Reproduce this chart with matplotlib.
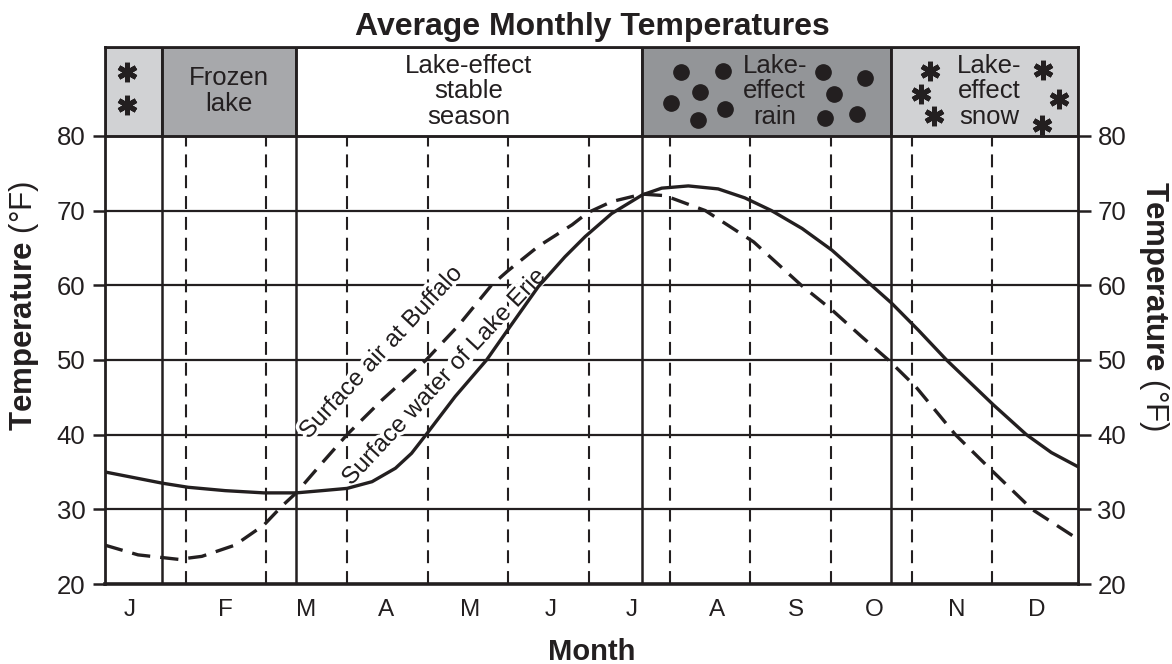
import matplotlib
matplotlib.use("Agg")
import matplotlib.pyplot as plt
import matplotlib.patheffects as pe
from matplotlib.patches import Rectangle

plt.rcParams['font.family'] = ['Liberation Sans', 'DejaVu Sans']
plt.rcParams['mathtext.fontset'] = 'custom'
plt.rcParams['mathtext.rm'] = 'Liberation Sans'
plt.rcParams['mathtext.bf'] = 'Liberation Sans:bold'

INK = '#231f20'

# ---------------- data ----------------
month_labels = ['J', 'F', 'M', 'A', 'M', 'J', 'J', 'A', 'S', 'O', 'N', 'D']
month_label_pos = [0.31, 1.49, 2.49, 3.48, 4.52, 5.52, 6.53, 7.58, 8.57, 9.54, 10.56, 11.55]
month_bounds = [1, 2, 3, 4, 5, 6, 7, 8, 9, 10, 11]

# Surface water of Lake Erie (months from Jan 1, deg F)
water_x = [0.00, 0.71, 1.03, 1.49, 1.97, 2.37, 2.69, 3.00, 3.31, 3.60, 3.80, 3.98,
           4.34, 4.73, 4.99, 5.37, 5.70, 5.95, 6.28, 6.66, 6.90, 7.23, 7.60, 7.93,
           8.26, 8.64, 9.01, 9.50, 9.75, 10.08, 10.43, 11.01, 11.42, 11.73, 12.06]
water_t = [35.0, 33.5, 32.95, 32.5, 32.2, 32.2, 32.5, 32.8, 33.7, 35.5, 37.5, 40.0,
           45.1, 50.0, 54.0, 59.8, 63.8, 66.5, 69.6, 72.1, 73.0, 73.3, 72.9, 71.7,
           70.0, 67.6, 64.7, 60.0, 57.6, 54.0, 50.0, 44.0, 40.0, 37.6, 35.7]

# Surface air at Buffalo
air_x = [0.00, 0.41, 0.91, 1.20, 1.61, 1.97, 2.19, 2.37, 2.69, 3.00, 3.43, 3.98,
         4.38, 4.79, 4.99, 5.37, 5.79, 5.98, 6.28, 6.66, 6.94, 7.19, 7.44, 8.04,
         8.63, 9.01, 9.38, 9.71, 10.05, 10.54, 11.01, 11.49, 12.06]
air_t = [25.2, 23.9, 23.3, 23.7, 25.2, 27.9, 30.4, 32.2, 36.2, 40.0, 44.6, 50.0,
         54.6, 60.0, 61.9, 65.2, 68.1, 69.7, 71.2, 72.2, 72.0, 71.0, 70.0, 65.8,
         60.0, 56.7, 53.1, 50.0, 46.4, 40.0, 35.0, 30.0, 26.0]

# seasons (banner)
season_edges = [0.0, 0.71, 2.37, 6.66, 9.74, 12.06]
season_colors = ['#d1d2d4', '#a7a8ab', '#ffffff', '#939598', '#d1d2d4']
season_names = ['', 'Frozen\nlake', 'Lake-effect\nstable\nseason', 'Lake-\neffect\nrain',
                'Lake-\neffect\nsnow']
season_text_x = [0.35, 1.54, 4.51, 8.30, 10.96]

# decorative symbols in banner
star_x = [0.27, 0.27, 10.23, 10.11, 10.27, 11.62, 11.82, 11.61]
star_t = [88.6, 84.2, 88.7, 85.6, 82.7, 88.8, 84.9, 81.5]
drop_x = [7.14, 7.66, 7.37, 7.01, 7.68, 7.35, 8.90, 9.42, 9.03, 9.32, 8.92]
drop_t = [88.5, 88.7, 85.9, 84.4, 83.6, 82.1, 88.6, 87.8, 85.6, 82.9, 82.4]

temp_ticks = [20, 30, 40, 50, 60, 70, 80]
grid_temps = [30, 40, 50, 60, 70]

X_MAX = 12.06
T_MIN, T_MAX, BANNER_BOT = 20, 91.9, 80

# ---------------- figure ----------------
fig = plt.figure(figsize=(11.72, 6.64), dpi=100)
ax = fig.add_axes([105 / 1172, 1 - 584 / 664, (1078 - 105) / 1172, (584 - 47) / 664])
ax.set_xlim(0, X_MAX)
ax.set_ylim(T_MIN, T_MAX)

# banner boxes
for i in range(len(season_colors)):
    x0, x1 = season_edges[i], season_edges[i + 1]
    ax.add_patch(Rectangle((x0, BANNER_BOT), x1 - x0, T_MAX - BANNER_BOT,
                           facecolor=season_colors[i], edgecolor=INK, lw=1.8, zorder=1))
    if season_names[i]:
        ax.text(season_text_x[i], (BANNER_BOT + T_MAX) / 2, season_names[i],
                ha='center', va='center', fontsize=18.5, color=INK, linespacing=1.1,
                zorder=4)

ax.plot(star_x, star_t, ls='none', marker=(6, 2, 0), ms=14, mew=3.6, color=INK, zorder=4)
ax.plot(drop_x, drop_t, ls='none', marker='o', ms=11, color=INK, zorder=4)

# grid lines
for t in grid_temps:
    ax.axhline(t, color=INK, lw=1.6, zorder=2)
ax.axhline(BANNER_BOT, color=INK, lw=1.8, zorder=2)
ax.vlines(month_bounds, T_MIN, BANNER_BOT, colors=INK, lw=1.5,
          linestyles=(0, (6.2, 3.8)), zorder=2)
for xe in season_edges[1:-1]:
    ax.axvline(xe, color=INK, lw=1.8, zorder=2)

# curves
ax.plot(water_x, water_t, color=INK, lw=2.4, solid_joinstyle='round', zorder=6)
ax.plot(air_x, air_t, color=INK, lw=2.4, dashes=(5.5, 3.0), zorder=6)

halo = [pe.withStroke(linewidth=5, foreground='white')]
ax.text(3.42, 50.9, 'Surface air at Buffalo', rotation=47, rotation_mode='anchor',
        ha='center', va='center', fontsize=17.5, color=INK, path_effects=halo, zorder=5)
ax.text(4.20, 47.6, 'Surface water of Lake Erie', rotation=47, rotation_mode='anchor',
        ha='center', va='center', fontsize=17.5, color=INK, path_effects=halo, zorder=5)

# spines and ticks
for s in ax.spines.values():
    s.set_color(INK)
    s.set_linewidth(2.0)
    s.set_zorder(7)
ax.spines['bottom'].set_linewidth(2.6)

ax.set_xticks(month_label_pos)
ax.set_xticklabels(month_labels)
ax.tick_params(axis='x', length=0, pad=11, labelsize=17.5, labelcolor=INK)
ax.set_yticks(temp_ticks)
ax.tick_params(axis='y', direction='out', length=9, width=1.8, color=INK,
               labelsize=18.5, labelcolor=INK, pad=5, left=True, right=True,
               labelleft=True, labelright=True)

fig.text(24 / 1172, 1 - 306 / 664, r'$\mathbf{Temperature}$ (°F)', rotation=90,
         ha='center', va='center', fontsize=22.5, color=INK)
fig.text(1154 / 1172, 1 - 306 / 664, r'$\mathbf{Temperature}$ (°F)', rotation=270,
         ha='center', va='center', fontsize=22.5, color=INK)
fig.text(592 / 1172, 1 - 660 / 664, 'Month', ha='center', va='baseline',
         fontsize=21, fontweight='bold', color=INK)
fig.text(592 / 1172, 1 - 27 / 664, 'Average Monthly Temperatures', ha='center',
         va='center', fontsize=23, fontweight='bold', color=INK)

fig.savefig('out.png', dpi=100)
